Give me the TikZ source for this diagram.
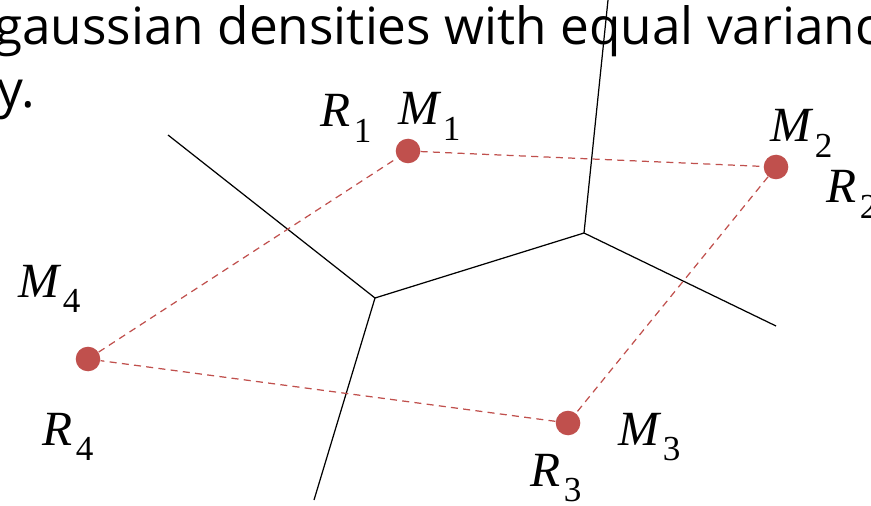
\documentclass[tikz,border=0pt]{standalone}
\usepackage{fontspec}
\setmainfont{Liberation Serif}
\newfontfamily\handfont{Open Sans}
\usepackage{tikz}
\usetikzlibrary{calc,positioning}
\definecolor{dotred}{HTML}{C0504D}
\definecolor{linegray}{HTML}{000000}

\tikzset{
  meanpt/.style={circle,fill=dotred,inner sep=0pt,minimum size=14},
  meanlink/.style={dotred,dashed,line width=0.7pt,dash pattern=on 4pt off 3pt},
  border/.style={linegray,line width=0.7pt},
  lbl/.style={inner sep=0pt,anchor=base west}
}
% region / mean label with a dropped subscript
\newcommand{\reglabel}[2]{{\fontsize{28}{28}\selectfont\itshape #1}\hspace{2pt}\raisebox{-9pt}{\fontsize{20}{20}\selectfont #2}}

\begin{document}
\begin{tikzpicture}[x=0.02cm,y=-0.02cm]
  \useasboundingbox (0,0) rectangle (871,506);
  % title text, cut off by the frame
  \node[lbl] (title1) at (-6,45) {\handfont\fontsize{29.2}{29.2}\selectfont gaussian densities with equal varianc};
  \node[lbl] (title2) at (-3,108) {\handfont\fontsize{29.2}{29.2}\selectfont y.};

  % decision borders
  \coordinate (ja) at (375,298);
  \coordinate (jb) at (584,233);
  \coordinate (e1) at (168,135);
  \coordinate (e2) at (608,0);
  \coordinate (e3) at (776,326);
  \coordinate (e4) at (314,500);
  \draw[border] (e1) -- (ja) -- (jb) -- (e2);
  \draw[border] (ja) -- (e4);
  \draw[border] (jb) -- (e3);

  % means
  \node[meanpt] (m1) at (408,151) {};
  \node[meanpt] (m2) at (776,167) {};
  \node[meanpt] (m3) at (568,423) {};
  \node[meanpt] (m4) at (88,359) {};
  \draw[meanlink] (m1) -- (m2) -- (m3) -- (m4) -- (m1);

  % labels
  \node[lbl] (lr1) at (320,127) {\reglabel{R}{1}};
  \node[lbl] (lm1) at (398,125) {\reglabel{M}{1}};
  \node[lbl] (lm2) at (770,142) {\reglabel{M}{2}};
  \node[lbl] (lr2) at (826,203) {\reglabel{R}{2}};
  \node[lbl] (lm4) at (18,297) {\reglabel{M}{4}};
  \node[lbl] (lr4) at (42,445) {\reglabel{R}{4}};
  \node[lbl] (lm3) at (618,445) {\reglabel{M}{3}};
  \node[lbl] (lr3) at (530,486) {\reglabel{R}{3}};
\end{tikzpicture}
\end{document}
